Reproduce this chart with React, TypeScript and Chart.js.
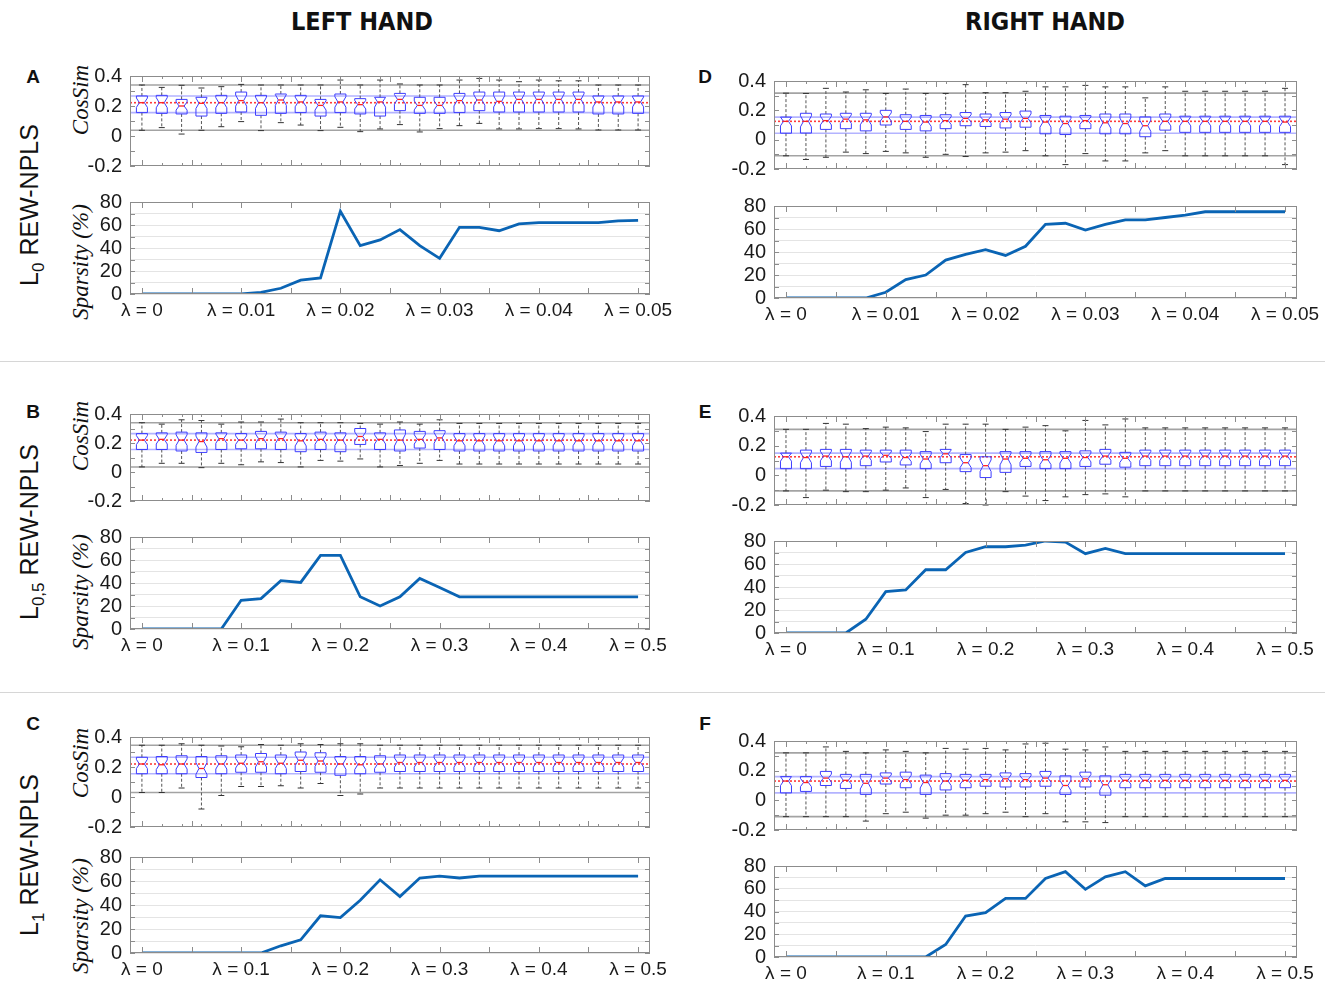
import React, { useEffect, useRef } from 'react';
import { Chart, registerables } from 'chart.js';

Chart.register(...registerables);

// lambda grids (L0 rows use 0..0.05, L0,5 and L1 rows use 0..0.5)
const lambdaSmall = [0, 0.002, 0.004, 0.006, 0.008, 0.01, 0.012, 0.014, 0.016, 0.018, 0.02, 0.022, 0.024, 0.026, 0.028, 0.03, 0.032, 0.034, 0.036, 0.038, 0.04, 0.042, 0.044, 0.046, 0.048, 0.05];
const lambdaLarge = [0, 0.02, 0.04, 0.06, 0.08, 0.1, 0.12, 0.14, 0.16, 0.18, 0.2, 0.22, 0.24, 0.26, 0.28, 0.3, 0.32, 0.34, 0.36, 0.38, 0.4, 0.42, 0.44, 0.46, 0.48, 0.5];

// sparsity (%) per panel
const sparsityA = [0, 0, 0, 0, 0, 0, 1.5, 5, 12, 14, 72, 42, 47, 56, 42, 31, 58, 58, 55, 61, 62, 62, 62, 62, 63.5, 64];
const sparsityB = [0, 0, 0, 0, 0, 25, 26.5, 42, 40.5, 64, 64, 28, 20, 28, 44, 36, 28, 28, 28, 28, 28, 28, 28, 28, 28, 28];
const sparsityC = [0, 0, 0, 0, 0, 0, 0, 6, 11, 31, 29.5, 44, 61, 47, 62.5, 64, 62.5, 64, 64, 64, 64, 64, 64, 64, 64, 64];
const sparsityD = [0, 0, 0, 0, 0, 5, 16, 20, 33, 38, 42, 37, 45, 64, 65, 59, 64, 68, 68, 70, 72, 75, 75, 75, 75, 75];
const sparsityE = [0, 0, 0, 0, 12, 36, 37.5, 55, 55, 70, 75, 75, 76.5, 80, 79, 69, 73.5, 69, 69, 69, 69, 69, 69, 69, 69, 69];
const sparsityF = [0, 0, 0, 0, 0, 0, 0, 0, 11, 36, 39, 51.5, 51.5, 69, 75, 59.5, 70.5, 75, 62.5, 69, 69, 69, 69, 69, 69, 69];

// CosSim boxplots: whisker low, q1, median, q3, whisker high
const cosA_lo = [0.038, 0.056, 0.013, 0.038, 0.062, 0.096, 0.036, 0.089, 0.073, 0.036, 0.058, 0.029, 0.047, 0.076, 0.027, 0.049, 0.069, 0.084, 0.047, 0.047, 0.049, 0.049, 0.047, 0.04, 0.04, 0.04];
const cosA_q1 = [0.156, 0.151, 0.147, 0.133, 0.151, 0.16, 0.138, 0.151, 0.156, 0.133, 0.156, 0.147, 0.133, 0.169, 0.151, 0.151, 0.156, 0.169, 0.16, 0.16, 0.16, 0.16, 0.16, 0.147, 0.147, 0.151];
const cosA_med = [0.222, 0.222, 0.2, 0.218, 0.222, 0.236, 0.222, 0.24, 0.227, 0.204, 0.227, 0.209, 0.227, 0.244, 0.204, 0.204, 0.236, 0.24, 0.231, 0.244, 0.244, 0.244, 0.244, 0.227, 0.227, 0.227];
const cosA_q3 = [0.267, 0.271, 0.244, 0.258, 0.271, 0.293, 0.271, 0.28, 0.271, 0.244, 0.28, 0.249, 0.258, 0.284, 0.258, 0.258, 0.284, 0.293, 0.293, 0.293, 0.293, 0.293, 0.293, 0.267, 0.267, 0.267];
const cosA_hi = [0.34, 0.324, 0.338, 0.32, 0.329, 0.344, 0.34, 0.34, 0.34, 0.34, 0.373, 0.34, 0.373, 0.347, 0.34, 0.34, 0.373, 0.384, 0.373, 0.362, 0.373, 0.368, 0.368, 0.34, 0.34, 0.34];

const cosB_lo = [0.035, 0.06, 0.06, 0.03, 0.06, 0.05, 0.07, 0.065, 0.035, 0.08, 0.075, 0.09, 0.035, 0.045, 0.06, 0.08, 0.055, 0.055, 0.055, 0.055, 0.055, 0.055, 0.055, 0.055, 0.055, 0.055];
const cosB_q1 = [0.155, 0.155, 0.145, 0.135, 0.155, 0.16, 0.16, 0.155, 0.14, 0.155, 0.14, 0.19, 0.155, 0.145, 0.165, 0.155, 0.145, 0.145, 0.145, 0.145, 0.145, 0.145, 0.145, 0.145, 0.145, 0.145];
const cosB_med = [0.22, 0.225, 0.22, 0.21, 0.23, 0.22, 0.23, 0.23, 0.215, 0.225, 0.22, 0.245, 0.225, 0.22, 0.225, 0.235, 0.215, 0.215, 0.215, 0.215, 0.215, 0.215, 0.215, 0.215, 0.215, 0.215];
const cosB_q3 = [0.265, 0.27, 0.275, 0.27, 0.27, 0.265, 0.28, 0.275, 0.265, 0.275, 0.27, 0.3, 0.27, 0.29, 0.28, 0.285, 0.265, 0.265, 0.265, 0.265, 0.265, 0.265, 0.265, 0.265, 0.265, 0.265];
const cosB_hi = [0.34, 0.33, 0.36, 0.355, 0.33, 0.345, 0.345, 0.365, 0.34, 0.34, 0.34, 0.335, 0.33, 0.345, 0.33, 0.36, 0.335, 0.335, 0.335, 0.335, 0.335, 0.335, 0.335, 0.335, 0.335, 0.335];

const cosC_lo = [0.03, 0.03, 0.06, -0.08, 0.01, 0.07, 0.07, 0.075, 0.06, 0.09, 0.01, 0.02, 0.06, 0.06, 0.06, 0.06, 0.06, 0.06, 0.06, 0.06, 0.06, 0.06, 0.06, 0.06, 0.06, 0.06];
const cosC_q1 = [0.155, 0.155, 0.155, 0.13, 0.155, 0.165, 0.165, 0.155, 0.17, 0.165, 0.145, 0.155, 0.165, 0.17, 0.17, 0.17, 0.17, 0.17, 0.17, 0.17, 0.17, 0.17, 0.17, 0.17, 0.17, 0.17];
const cosC_med = [0.22, 0.215, 0.22, 0.19, 0.22, 0.225, 0.235, 0.225, 0.245, 0.24, 0.22, 0.215, 0.22, 0.23, 0.23, 0.23, 0.23, 0.23, 0.23, 0.23, 0.23, 0.23, 0.23, 0.23, 0.23, 0.23];
const cosC_q3 = [0.265, 0.27, 0.275, 0.27, 0.275, 0.28, 0.29, 0.28, 0.3, 0.295, 0.27, 0.27, 0.275, 0.28, 0.28, 0.28, 0.28, 0.28, 0.28, 0.28, 0.28, 0.28, 0.28, 0.28, 0.28, 0.28];
const cosC_hi = [0.345, 0.345, 0.355, 0.345, 0.34, 0.335, 0.35, 0.345, 0.355, 0.35, 0.355, 0.355, 0.345, 0.345, 0.345, 0.345, 0.345, 0.345, 0.345, 0.345, 0.345, 0.345, 0.345, 0.345, 0.345, 0.345];

const cosD_lo = [-0.11, -0.135, -0.12, -0.085, -0.095, -0.08, -0.09, -0.12, -0.1, -0.115, -0.09, -0.085, -0.075, -0.11, -0.17, -0.095, -0.145, -0.145, -0.09, -0.075, -0.11, -0.11, -0.11, -0.11, -0.11, -0.17];
const cosD_q1 = [0.044, 0.045, 0.07, 0.075, 0.06, 0.1, 0.07, 0.06, 0.075, 0.095, 0.09, 0.08, 0.085, 0.04, 0.035, 0.075, 0.04, 0.04, 0.02, 0.065, 0.05, 0.05, 0.05, 0.05, 0.05, 0.05];
const cosD_med = [0.125, 0.125, 0.13, 0.14, 0.135, 0.155, 0.125, 0.12, 0.13, 0.145, 0.135, 0.14, 0.145, 0.12, 0.11, 0.13, 0.115, 0.11, 0.095, 0.125, 0.125, 0.125, 0.125, 0.125, 0.125, 0.12];
const cosD_q3 = [0.154, 0.18, 0.175, 0.18, 0.18, 0.2, 0.17, 0.165, 0.17, 0.185, 0.175, 0.185, 0.195, 0.165, 0.16, 0.165, 0.175, 0.175, 0.155, 0.175, 0.16, 0.16, 0.16, 0.16, 0.16, 0.16];
const cosD_hi = [0.317, 0.315, 0.35, 0.325, 0.34, 0.315, 0.345, 0.315, 0.315, 0.375, 0.32, 0.32, 0.33, 0.36, 0.36, 0.37, 0.36, 0.36, 0.285, 0.36, 0.33, 0.33, 0.33, 0.33, 0.33, 0.35];

const cosE_lo = [-0.105, -0.15, -0.1, -0.11, -0.11, -0.1, -0.085, -0.15, -0.095, -0.19, -0.2, -0.11, -0.14, -0.17, -0.145, -0.13, -0.125, -0.145, -0.105, -0.105, -0.105, -0.105, -0.105, -0.105, -0.105, -0.105];
const cosE_q1 = [0.045, 0.045, 0.06, 0.045, 0.065, 0.09, 0.07, 0.045, 0.085, 0.025, -0.015, 0.02, 0.06, 0.045, 0.045, 0.06, 0.075, 0.055, 0.065, 0.065, 0.065, 0.065, 0.065, 0.065, 0.065, 0.065];
const cosE_med = [0.125, 0.12, 0.13, 0.125, 0.13, 0.135, 0.12, 0.11, 0.145, 0.085, 0.065, 0.11, 0.115, 0.105, 0.115, 0.12, 0.13, 0.115, 0.13, 0.13, 0.13, 0.13, 0.13, 0.13, 0.13, 0.13];
const cosE_q3 = [0.15, 0.17, 0.175, 0.175, 0.17, 0.17, 0.17, 0.16, 0.175, 0.14, 0.125, 0.16, 0.16, 0.16, 0.16, 0.165, 0.175, 0.155, 0.17, 0.17, 0.17, 0.17, 0.17, 0.17, 0.17, 0.17];
const cosE_hi = [0.31, 0.31, 0.35, 0.345, 0.315, 0.325, 0.32, 0.295, 0.345, 0.345, 0.345, 0.31, 0.325, 0.335, 0.3, 0.37, 0.34, 0.38, 0.32, 0.32, 0.32, 0.32, 0.32, 0.32, 0.32, 0.32];

const cosF_lo = [-0.11, -0.11, -0.11, -0.11, -0.14, -0.09, -0.08, -0.12, -0.1, -0.1, -0.09, -0.08, -0.11, -0.09, -0.145, -0.145, -0.15, -0.11, -0.11, -0.11, -0.11, -0.11, -0.11, -0.11, -0.11, -0.11];
const cosF_q1 = [0.05, 0.06, 0.1, 0.08, 0.04, 0.11, 0.085, 0.04, 0.07, 0.085, 0.095, 0.09, 0.09, 0.095, 0.04, 0.09, 0.035, 0.085, 0.085, 0.085, 0.085, 0.085, 0.085, 0.085, 0.085, 0.085];
const cosF_med = [0.13, 0.12, 0.15, 0.135, 0.115, 0.15, 0.14, 0.12, 0.13, 0.135, 0.14, 0.145, 0.14, 0.15, 0.1, 0.145, 0.105, 0.135, 0.135, 0.135, 0.135, 0.135, 0.135, 0.135, 0.135, 0.135];
const cosF_q3 = [0.16, 0.16, 0.195, 0.175, 0.175, 0.185, 0.19, 0.17, 0.18, 0.175, 0.175, 0.185, 0.18, 0.195, 0.165, 0.19, 0.165, 0.175, 0.175, 0.175, 0.175, 0.175, 0.175, 0.175, 0.175, 0.175];
const cosF_hi = [0.32, 0.32, 0.36, 0.33, 0.32, 0.34, 0.33, 0.32, 0.35, 0.345, 0.35, 0.34, 0.38, 0.385, 0.345, 0.34, 0.36, 0.33, 0.33, 0.33, 0.33, 0.33, 0.33, 0.33, 0.33, 0.33];

const SANS = '"Liberation Sans", Arial, sans-serif';
const SERIF = '"Liberation Serif", "DejaVu Serif", serif';
const TXT = '#1a1a1a';
const FRAME = '#8c8c8c';
const GRID = '#e4e4e4';
const LINE_BLUE = '#0a64b4';
const PAD_T = 22;
const PAD_B = 22;
const X_H = 30;

interface Frame { left: number; top: number; width: number; height: number; yW: number; padR: number }

interface BoxData { lo: number[]; q1: number[]; med: number[]; q3: number[]; hi: number[] }

// frame + inward MATLAB style tick marks
const frameTicks = (marks?: number[]) => ({
  id: 'frameTicks',
  afterDraw(chart: any) {
    const { ctx, chartArea: a, scales } = chart;
    ctx.save();
    ctx.strokeStyle = FRAME;
    ctx.lineWidth = 1;
    ctx.beginPath();
    scales.y.ticks.forEach((t: any) => {
      const py = Math.round(scales.y.getPixelForValue(t.value)) + 0.5;
      ctx.moveTo(a.left, py); ctx.lineTo(a.left + 5, py);
      ctx.moveTo(a.right, py); ctx.lineTo(a.right - 5, py);
    });
    scales.x.ticks.forEach((t: any) => {
      const px = Math.round(scales.x.getPixelForValue(t.value)) + 0.5;
      ctx.moveTo(px, a.bottom); ctx.lineTo(px, a.bottom - 6);
      ctx.moveTo(px, a.top); ctx.lineTo(px, a.top + 6);
    });
    (marks || []).forEach((m) => {
      const px = Math.round(scales.x.getPixelForValue(m)) + 0.5;
      ctx.moveTo(px, a.bottom); ctx.lineTo(px, a.bottom - 3);
      ctx.moveTo(px, a.top); ctx.lineTo(px, a.top + 3);
    });
    ctx.stroke();
    ctx.strokeRect(a.left + 0.5, a.top + 0.5, a.right - a.left - 1, a.bottom - a.top - 1);
    ctx.restore();
  },
});

// notched boxplots drawn on the chart's scales
const boxPlot = (lam: number[], b: BoxData) => ({
  id: 'boxPlot',
  beforeDatasetsDraw(chart: any) {
    const { ctx, chartArea: a, scales: { y } } = chart;
    const hline = (v: number, color: string, dash: number[]) => {
      const py = y.getPixelForValue(v);
      ctx.save();
      ctx.strokeStyle = color;
      ctx.lineWidth = 1.6;
      ctx.setLineDash(dash);
      ctx.beginPath(); ctx.moveTo(a.left, py); ctx.lineTo(a.right, py); ctx.stroke();
      ctx.restore();
    };
    hline(b.hi[0], '#a3a3a3', []);
    hline(b.lo[0], '#a3a3a3', []);
    hline(b.q3[0], '#b3b3ff', []);
    hline(b.q1[0], '#b3b3ff', []);
    hline(b.med[0], '#ff3a3a', [2, 2]);
  },
  afterDatasetsDraw(chart: any) {
    const { ctx, scales: { x, y } } = chart;
    const hw = 5.5;
    const nw = 2.5;
    ctx.save();
    lam.forEach((l, i) => {
      const px = x.getPixelForValue(l);
      const iqr = b.q3[i] - b.q1[i];
      const yq3 = y.getPixelForValue(b.q3[i]);
      const yq1 = y.getPixelForValue(b.q1[i]);
      const ym = y.getPixelForValue(b.med[i]);
      const yn1 = y.getPixelForValue(Math.min(b.med[i] + 0.28 * iqr, b.q3[i]));
      const yn2 = y.getPixelForValue(Math.max(b.med[i] - 0.28 * iqr, b.q1[i]));
      const yhi = y.getPixelForValue(b.hi[i]);
      const ylo = y.getPixelForValue(b.lo[i]);
      // whiskers
      ctx.strokeStyle = '#555';
      ctx.lineWidth = 1;
      ctx.setLineDash([3, 2]);
      ctx.beginPath();
      ctx.moveTo(px, yq3); ctx.lineTo(px, yhi);
      ctx.moveTo(px, yq1); ctx.lineTo(px, ylo);
      ctx.stroke();
      ctx.setLineDash([]);
      ctx.strokeStyle = '#333';
      ctx.beginPath();
      ctx.moveTo(px - 3, yhi); ctx.lineTo(px + 3, yhi);
      ctx.moveTo(px - 3, ylo); ctx.lineTo(px + 3, ylo);
      ctx.stroke();
      // notched box
      ctx.strokeStyle = '#3d3dff';
      ctx.beginPath();
      ctx.moveTo(px - hw, yq3); ctx.lineTo(px + hw, yq3); ctx.lineTo(px + hw, yn1);
      ctx.lineTo(px + nw, ym); ctx.lineTo(px + hw, yn2); ctx.lineTo(px + hw, yq1);
      ctx.lineTo(px - hw, yq1); ctx.lineTo(px - hw, yn2); ctx.lineTo(px - nw, ym);
      ctx.lineTo(px - hw, yn1); ctx.closePath();
      ctx.stroke();
      ctx.strokeStyle = '#ff2020';
      ctx.lineWidth = 1.3;
      ctx.beginPath(); ctx.moveTo(px - nw, ym); ctx.lineTo(px + nw, ym); ctx.stroke();
    });
    ctx.restore();
  },
});

const BoxPanel: React.FC<{ f: Frame; lam: number[]; lamMax: number; box: BoxData }> = ({ f, lam, lamMax, box }) => {
  const ref = useRef<HTMLCanvasElement | null>(null);
  useEffect(() => {
    const ctx = ref.current?.getContext('2d');
    if (!ctx) return;
    const chart = new Chart(ctx, {
      type: 'scatter',
      data: { datasets: [{ data: lam.map((l, i) => ({ x: l, y: box.med[i] })), pointRadius: 0 }] },
      options: {
        responsive: false,
        animation: false,
        layout: { padding: { top: PAD_T, right: f.padR, left: 0, bottom: PAD_B } },
        plugins: { legend: { display: false }, tooltip: { enabled: false } },
        scales: {
          x: {
            type: 'linear', min: -lamMax * 0.024, max: lamMax * 1.024,
            grid: { display: false, drawTicks: false }, border: { display: false },
            ticks: { display: false, stepSize: lamMax / 10, includeBounds: false },
            afterFit: (s: any) => { s.height = 0; },
          },
          y: {
            min: -0.2, max: 0.4,
            grid: { display: false, drawTicks: false }, border: { display: false },
            ticks: {
              stepSize: 0.1, padding: 8, autoSkip: false, color: TXT, font: { family: SANS, size: 20 },
              callback: (v: any) => { const k = Math.round(Number(v) * 10); return k % 2 === 0 ? String(k / 10) : ''; },
            },
            afterFit: (s: any) => { s.width = f.yW; },
          },
        },
      } as any,
      plugins: [boxPlot(lam, box), frameTicks(lam)],
    });
    return () => chart.destroy();
  }, []);
  return (
    <canvas ref={ref} width={f.yW + f.width + f.padR} height={PAD_T + f.height + PAD_B}
      style={{ position: 'absolute', left: f.left - f.yW, top: f.top - PAD_T }} />
  );
};

const SparsityPanel: React.FC<{ f: Frame; lam: number[]; lamMax: number; values: number[] }> = ({ f, lam, lamMax, values }) => {
  const ref = useRef<HTMLCanvasElement | null>(null);
  useEffect(() => {
    const ctx = ref.current?.getContext('2d');
    if (!ctx) return;
    const major = lamMax / 5;
    const chart = new Chart(ctx, {
      type: 'line',
      data: {
        datasets: [{
          data: lam.map((l, i) => ({ x: l, y: values[i] })),
          borderColor: LINE_BLUE, borderWidth: 2.8, pointRadius: 0, tension: 0, fill: false,
        }],
      },
      options: {
        responsive: false,
        animation: false,
        layout: { padding: { top: PAD_T, right: f.padR, left: 0, bottom: 0 } },
        plugins: { legend: { display: false }, tooltip: { enabled: false } },
        scales: {
          x: {
            type: 'linear', min: -lamMax * 0.024, max: lamMax * 1.024,
            grid: { display: false, drawTicks: false }, border: { display: false },
            ticks: {
              stepSize: lamMax / 10, includeBounds: false, autoSkip: false, maxRotation: 0, minRotation: 0,
              padding: 5, color: TXT, font: { family: SANS, size: 19 },
              callback: (v: any) => {
                const r = Number(v) / major;
                return Math.abs(r - Math.round(r)) < 1e-6 ? 'λ = ' + parseFloat(Number(v).toFixed(3)) : '';
              },
            },
            afterFit: (s: any) => { s.height = X_H; },
          },
          y: {
            min: 0, max: 80,
            grid: { color: GRID, drawTicks: false }, border: { display: false },
            ticks: {
              stepSize: 10, padding: 8, autoSkip: false, color: TXT, font: { family: SANS, size: 20 },
              callback: (v: any) => (Number(v) % 20 === 0 ? String(v) : ''),
            },
            afterFit: (s: any) => { s.width = f.yW; },
          },
        },
      } as any,
      plugins: [frameTicks()],
    });
    return () => chart.destroy();
  }, []);
  return (
    <canvas ref={ref} width={f.yW + f.width + f.padR} height={PAD_T + f.height + X_H}
      style={{ position: 'absolute', left: f.left - f.yW, top: f.top - PAD_T }} />
  );
};

const VText: React.FC<{ x: number; y: number; style?: React.CSSProperties; children: React.ReactNode }> = ({ x, y, style, children }) => (
  <div style={{ position: 'absolute', left: x, top: y, transform: 'translate(-50%, -50%) rotate(-90deg)', whiteSpace: 'nowrap', lineHeight: 1, ...style }}>
    {children}
  </div>
);

const Label: React.FC<{ x: number; y: number; style?: React.CSSProperties; children: React.ReactNode }> = ({ x, y, style, children }) => (
  <div style={{ position: 'absolute', left: x, top: y, transform: 'translate(-50%, -50%)', whiteSpace: 'nowrap', lineHeight: 1, ...style }}>
    {children}
  </div>
);

const L = { yW: 64, padR: 40 };
const R = { yW: 54, padR: 28 };

const titleStyle: React.CSSProperties = { fontFamily: '"Liberation Sans Narrow", "DejaVu Sans Condensed", Arial, sans-serif', fontWeight: 'bold', fontSize: 25, color: '#111' };
const letterStyle: React.CSSProperties = { fontFamily: SANS, fontWeight: 'bold', fontSize: 19, color: '#111' };
const rowStyle: React.CSSProperties = { fontFamily: SANS, fontSize: 25, color: '#111' };
const axStyle: React.CSSProperties = { fontFamily: SERIF, fontStyle: 'italic', fontSize: 23, color: '#111' };
const subStyle: React.CSSProperties = { fontSize: 17, verticalAlign: -6 };

const App: React.FC = () => (
  <div style={{ position: 'fixed', left: 0, top: 0, width: 1325, height: 990, background: '#fff', overflow: 'hidden' }}>
    <Label x={362} y={21} style={titleStyle}>LEFT HAND</Label>
    <Label x={1045} y={21} style={titleStyle}>RIGHT HAND</Label>

    <div style={{ position: 'absolute', left: 0, top: 361, width: 1325, height: 1, background: '#d6d6d6' }} />
    <div style={{ position: 'absolute', left: 0, top: 692, width: 1325, height: 1, background: '#d6d6d6' }} />

    <Label x={33} y={76} style={letterStyle}>A</Label>
    <Label x={33} y={411} style={letterStyle}>B</Label>
    <Label x={33} y={723} style={letterStyle}>C</Label>
    <Label x={705} y={76} style={letterStyle}>D</Label>
    <Label x={705} y={411} style={letterStyle}>E</Label>
    <Label x={705} y={723} style={letterStyle}>F</Label>

    <VText x={32} y={205} style={rowStyle}>L<span style={subStyle}>0</span> REW-NPLS</VText>
    <VText x={32} y={532} style={rowStyle}>L<span style={subStyle}>0,5</span> REW-NPLS</VText>
    <VText x={32} y={855} style={rowStyle}>L<span style={subStyle}>1</span> REW-NPLS</VText>

    <VText x={80} y={100} style={axStyle}>CosSim</VText>
    <VText x={80} y={262} style={axStyle}>Sparsity (%)</VText>
    <VText x={80} y={436} style={axStyle}>CosSim</VText>
    <VText x={80} y={592} style={axStyle}>Sparsity (%)</VText>
    <VText x={80} y={763} style={axStyle}>CosSim</VText>
    <VText x={80} y={916} style={axStyle}>Sparsity (%)</VText>

    <BoxPanel f={{ left: 130, top: 76, width: 520, height: 90, ...L }} lam={lambdaSmall} lamMax={0.05}
      box={{ lo: cosA_lo, q1: cosA_q1, med: cosA_med, q3: cosA_q3, hi: cosA_hi }} />
    <SparsityPanel f={{ left: 130, top: 202, width: 520, height: 92, ...L }} lam={lambdaSmall} lamMax={0.05} values={sparsityA} />

    <BoxPanel f={{ left: 130, top: 414, width: 520, height: 87, ...L }} lam={lambdaLarge} lamMax={0.5}
      box={{ lo: cosB_lo, q1: cosB_q1, med: cosB_med, q3: cosB_q3, hi: cosB_hi }} />
    <SparsityPanel f={{ left: 130, top: 537, width: 520, height: 92, ...L }} lam={lambdaLarge} lamMax={0.5} values={sparsityB} />

    <BoxPanel f={{ left: 130, top: 737, width: 520, height: 90, ...L }} lam={lambdaLarge} lamMax={0.5}
      box={{ lo: cosC_lo, q1: cosC_q1, med: cosC_med, q3: cosC_q3, hi: cosC_hi }} />
    <SparsityPanel f={{ left: 130, top: 857, width: 520, height: 96, ...L }} lam={lambdaLarge} lamMax={0.5} values={sparsityC} />

    <BoxPanel f={{ left: 774, top: 81, width: 523, height: 88, ...R }} lam={lambdaSmall} lamMax={0.05}
      box={{ lo: cosD_lo, q1: cosD_q1, med: cosD_med, q3: cosD_q3, hi: cosD_hi }} />
    <SparsityPanel f={{ left: 774, top: 206, width: 523, height: 92, ...R }} lam={lambdaSmall} lamMax={0.05} values={sparsityD} />

    <BoxPanel f={{ left: 774, top: 416, width: 523, height: 89, ...R }} lam={lambdaLarge} lamMax={0.5}
      box={{ lo: cosE_lo, q1: cosE_q1, med: cosE_med, q3: cosE_q3, hi: cosE_hi }} />
    <SparsityPanel f={{ left: 774, top: 541, width: 523, height: 92, ...R }} lam={lambdaLarge} lamMax={0.5} values={sparsityE} />

    <BoxPanel f={{ left: 774, top: 741, width: 523, height: 89, ...R }} lam={lambdaLarge} lamMax={0.5}
      box={{ lo: cosF_lo, q1: cosF_q1, med: cosF_med, q3: cosF_q3, hi: cosF_hi }} />
    <SparsityPanel f={{ left: 774, top: 866, width: 523, height: 91, ...R }} lam={lambdaLarge} lamMax={0.5} values={sparsityF} />
  </div>
);

export default App;
